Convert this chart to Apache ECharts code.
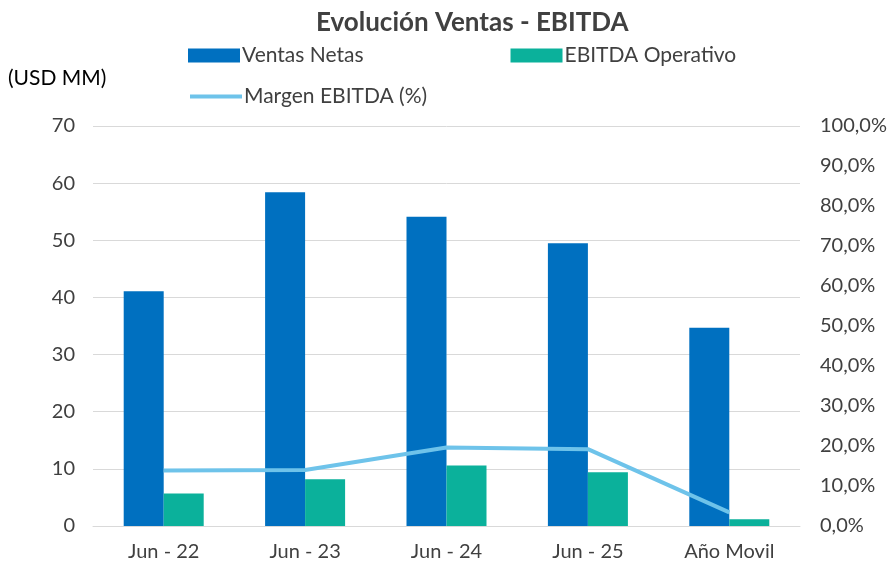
<!DOCTYPE html>
<html>
<head>
<meta charset="utf-8">
<script src="https://cdn.jsdelivr.net/npm/echarts@6/dist/echarts.min.js"></script>
<style>
  html, body { margin: 0; padding: 0; background: #ffffff; }
  #chart { width: 891px; height: 566px; }
</style>
</head>
<body>
<div id="chart"></div>
<script>
// datos
var categorias = ['Jun - 22', 'Jun - 23', 'Jun - 24', 'Jun - 25', 'Año Movil'];
var ventasNetas = [41.1, 58.4, 54.1, 49.5, 34.7];
var ebitdaOperativo = [5.7, 8.2, 10.6, 9.4, 1.2];
var margenEbitda = [13.9, 14.0, 19.6, 19.2, 3.4];

var fuente = 'Lato';
var gris = '#404040';

var chart = echarts.init(document.getElementById('chart'));
chart.setOption({
    textStyle: { fontFamily: fuente },
    title: {
        text: 'Evolución Ventas - EBITDA',
        left: 311,
        top: 5,
        textStyle: { fontFamily: fuente, fontSize: 26, fontWeight: 'bold', color: gris }
    },
    graphic: [
        {
            type: 'text',
            left: 8,
            top: 68,
            style: { text: '(USD MM)', fontFamily: fuente, fontSize: 21, fill: '#000000' }
        }
    ],
    legend: [
        {
            data: ['Ventas Netas', 'EBITDA Operativo'],
            left: 183,
            top: 40,
            itemWidth: 52,
            itemHeight: 14,
            itemGap: 147,
            icon: 'rect',
            textStyle: { fontFamily: fuente, fontSize: 21, color: gris, padding: [0, 0, 0, -3] }
        },
        {
            data: ['Margen EBITDA (%)'],
            left: 183,
            top: 81,
            itemWidth: 52,
            itemHeight: 14,
            itemStyle: { opacity: 0 },
            lineStyle: { width: 4 },
            textStyle: { fontFamily: fuente, fontSize: 21, color: gris, padding: [0, 0, 0, -3] }
        }
    ],
    grid: { left: 93, right: 91, top: 126, bottom: 40 },
    xAxis: {
        type: 'category',
        data: categorias,
        axisLine: { lineStyle: { color: '#D9D9D9', width: 1 } },
        axisTick: { show: false },
        axisLabel: { color: gris, fontSize: 20, margin: 16, fontFamily: fuente }
    },
    yAxis: [
        {
            type: 'value',
            min: 0,
            max: 70,
            interval: 10,
            axisLine: { show: false },
            axisTick: { show: false },
            axisLabel: { color: gris, fontSize: 20, margin: 18, fontFamily: fuente },
            splitLine: { lineStyle: { color: '#D9D9D9', width: 1 } }
        },
        {
            type: 'value',
            min: 0,
            max: 100,
            interval: 10,
            axisLine: { show: false },
            axisTick: { show: false },
            splitLine: { show: false },
            axisLabel: {
                color: gris, fontSize: 20, margin: 20, fontFamily: fuente,
                formatter: function (v) { return v.toFixed(1).replace('.', ',') + '%'; }
            }
        }
    ],
    series: [
        {
            name: 'Ventas Netas',
            type: 'bar',
            data: ventasNetas,
            barWidth: 40,
            barGap: '0%',
            itemStyle: { color: '#0070C0' }
        },
        {
            name: 'EBITDA Operativo',
            type: 'bar',
            data: ebitdaOperativo,
            barWidth: 40,
            itemStyle: { color: '#0BB19B' }
        },
        {
            name: 'Margen EBITDA (%)',
            type: 'line',
            yAxisIndex: 1,
            data: margenEbitda,
            symbol: 'none',
            lineStyle: { color: '#6EC3EA', width: 4 },
            itemStyle: { color: '#6EC3EA' }
        }
    ]
});
</script>
</body>
</html>
